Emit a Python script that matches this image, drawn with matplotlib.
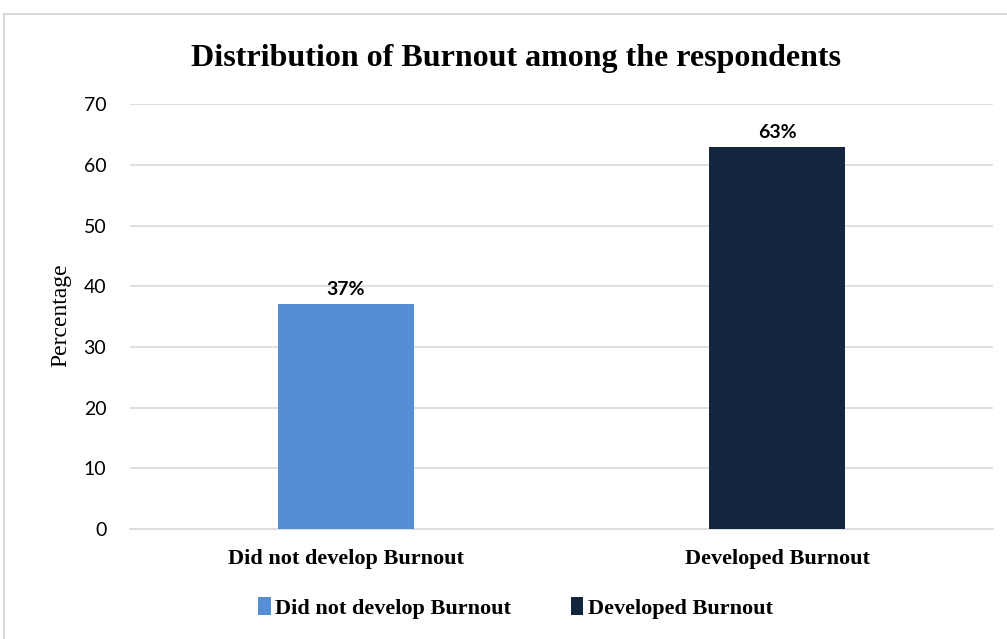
import matplotlib.pyplot as plt
from matplotlib.patches import Rectangle

categories = ['Did not develop Burnout', 'Developed Burnout']
values = [37, 63]
labels = ['37%', '63%']
colors = ['#558ed5', '#13263f']

fig = plt.figure(figsize=(10.07, 6.39), dpi=100)
ax = fig.add_axes([0.129, 0.172, 0.857, 0.665])

# light outer frame like the original chart area
fig.patches.append(Rectangle((4 / 1007, -0.1), 1.2, 1.1 - 14 / 639, transform=fig.transFigure,
                             fill=False, edgecolor='#d9d9d9', linewidth=1.5))

bars = ax.bar(categories, values, width=0.315, color=colors, label=categories, zorder=3)
for b, lab in zip(bars, labels):
    ax.text(b.get_x() + b.get_width() / 2, b.get_height() + 1, lab, ha='center', va='bottom',
            fontsize=14, fontweight='bold', family='Lato')

ax.set_ylim(0, 70)
ax.set_xlim(-0.5, 1.5)
ax.set_yticks(range(0, 71, 10))
ax.grid(axis='y', color='#d9d9d9', linewidth=1.2, zorder=0)
for s in ['top', 'right', 'left']:
    ax.spines[s].set_visible(False)
ax.spines['bottom'].set_color('#d9d9d9')
ax.spines['bottom'].set_linewidth(1.2)
ax.tick_params(axis='both', length=0)
ax.tick_params(axis='y', labelsize=14, pad=17)
for t in ax.get_yticklabels():
    t.set_family('Lato')
ax.tick_params(axis='x', pad=14)
for t in ax.get_xticklabels():
    t.set_family('Liberation Serif')
    t.set_fontweight('bold')
    t.set_fontsize(16)

ax.set_ylabel('Percentage', family='Liberation Serif', fontsize=17)
ax.yaxis.set_label_coords(71 / 1007, 0.507, transform=fig.transFigure)
fig.text(0.512, 0.908, 'Distribution of Burnout among the respondents', ha='center', va='center',
         family='Liberation Serif', fontweight='bold', fontsize=23)

fig.legend(loc='center', bbox_to_anchor=(0.512, 0.049), ncol=2, frameon=False,
           prop={'family': 'Liberation Serif', 'weight': 'bold', 'size': 16},
           handlelength=0.55, handleheight=0.9, handletextpad=0.2, columnspacing=2.7)

fig.savefig('out.png', dpi=100)
